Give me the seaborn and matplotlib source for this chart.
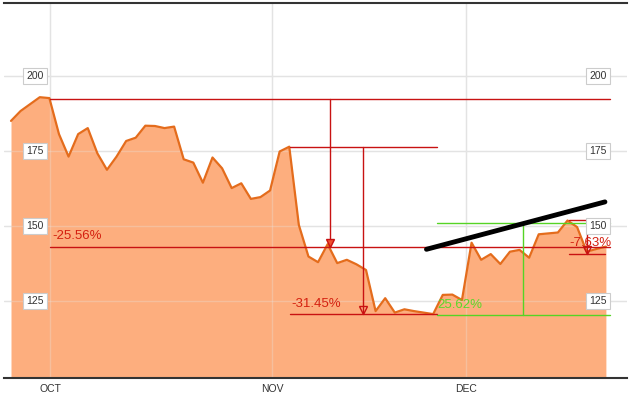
import matplotlib
matplotlib.use("Agg")
import matplotlib.pyplot as plt
import seaborn as sns
import numpy as np
import pandas as pd

# ---- data ----
prices = [185.0, 188.3, 190.6, 192.9, 192.6, 180.6, 173.1, 180.6, 182.6, 174.2,
          168.7, 173.1, 178.3, 179.4, 183.4, 183.3, 182.6, 183.1, 172.2, 171.1,
          164.4, 172.8, 169.2, 162.6, 164.2, 159.0, 159.6, 161.8, 174.8, 176.4,
          150.3, 139.8, 137.9, 143.9, 137.6, 138.7, 137.2, 135.3, 121.6, 125.9,
          121.1, 122.2, 121.6, 121.1, 120.6, 127.0, 127.1, 125.3, 144.4, 138.7,
          140.6, 137.3, 141.4, 142.0, 139.4, 147.2, 147.5, 147.8, 151.8, 149.6,
          141.4, 142.3, 143.1]
month_labels = ["OCT", "NOV", "DEC"]
month_pos = [4.06, 27.2, 47.45]
ytick_vals = [125, 150, 175, 200]

# drawdown / rally annotations
dd1 = dict(x0=4.06, x1=62.4, xa=33.2, y_from=192.3, y_to=143.0, label="-25.56%")
dd2 = dict(x0=29.1, x1=44.4, xa=36.7, y_from=176.4, y_to=120.6, label="-31.45%")
up1 = dict(x0=44.4, x1=62.4, xa=53.4, y_from=120.3, y_to=151.1, label="25.62%")
dd3 = dict(x0=58.2, x1=61.9, xa=60.0, y_from=152.0, y_to=140.7, label="-7.63%")
trend_x = [43.3, 61.9]
trend_y = [142.2, 158.0]

df = pd.DataFrame({"idx": np.arange(len(prices)), "price": prices})

sns.set_theme(style="white")
plt.rcParams['font.family'] = ['Liberation Sans', 'DejaVu Sans']

fig = plt.figure(figsize=(6.3, 3.94), dpi=100)
ax = fig.add_axes([4/630, 1 - 378/394, 623/630, 375/394])

ymin, ymax = 99.3, 224.3
ax.fill_between(df["idx"], df["price"], ymin, color="#FDAE7E", zorder=1, linewidth=0)
sns.lineplot(data=df, x="idx", y="price", ax=ax, color="#E46C1C", linewidth=1.6, zorder=3)

ax.set_xlim(-0.73, 64.2)
ax.set_ylim(ymin, ymax)

# grid (behind, plus faint copy over the fill)
for v in ytick_vals:
    ax.axhline(v, color="#E2E2E2", linewidth=1.0, zorder=0.5)
    ax.axhline(v, color="#E8E8E8", linewidth=1.0, alpha=0.3, zorder=2)
for p in month_pos:
    ax.axvline(p, color="#E2E2E2", linewidth=1.0, zorder=0.5)
    ax.axvline(p, color="#E8E8E8", linewidth=1.0, alpha=0.3, zorder=2)

ax.set_xticks(month_pos)
ax.set_xticklabels(month_labels, fontsize=7.5, color="#333333")
ax.tick_params(axis="x", length=0, pad=4)
ax.set_yticks([])
ax.set_xlabel("")
ax.set_ylabel("")

for s in ["left", "right"]:
    ax.spines[s].set_visible(False)
ax.spines["bottom"].set_color("#333333")
ax.spines["bottom"].set_linewidth(1.5)
ax.spines["top"].set_color("#333333")
ax.spines["top"].set_linewidth(1.5)

# y labels in boxes, both sides
box = dict(boxstyle="square,pad=0.3", fc="white", ec="#CCCCCC", lw=0.8)
for v in ytick_vals:
    for xf in (0.05, 0.953):
        ax.text(xf, v, str(v), transform=ax.get_yaxis_transform(), fontsize=7.5,
                ha="center", va="center", color="#333333", bbox=box, zorder=6)

red = "#C81212"
green = "#55D424"

def measure(d, color, up=False, tri_fill=None):
    ax.plot([d["x0"], d["x1"]], [d["y_from"], d["y_from"]], color=color, lw=1.0, zorder=4)
    ax.plot([d["x0"], d["x1"]], [d["y_to"], d["y_to"]], color=color, lw=1.0, zorder=4)
    ax.plot([d["xa"], d["xa"]], [d["y_from"], d["y_to"]], color=color, lw=1.0, zorder=4)
    if not up:
        ax.plot([d["xa"]], [d["y_to"] + 1.2], marker="v", ms=6, mfc=tri_fill or "none",
                mec=color, mew=1.0, zorder=5)
    else:
        ax.plot([d["xa"] - 0.3, d["xa"] + 0.3], [d["y_to"], d["y_to"]], color=color, lw=1.0, zorder=5)

measure(dd1, red, tri_fill="#F05030")
ax.text(dd1["x0"] + 0.2, dd1["y_to"] + 1.5, dd1["label"], color="#D42010", fontsize=9.5, va="bottom", zorder=6)

measure(dd2, red)
ax.text(dd2["x0"] + 0.1, dd2["y_to"] + 1.5, dd2["label"], color="#D42010", fontsize=9.5, va="bottom", zorder=6)

measure(up1, green, up=True)
ax.text(up1["x0"] + 0.05, up1["y_from"] + 1.2, up1["label"], color="#5AD82A", fontsize=9.5, va="bottom", zorder=6)

measure(dd3, red)
ax.text(dd3["x0"] - 0.05, dd3["y_to"] + 1.5, dd3["label"], color="#D42010", fontsize=9.5, va="bottom", zorder=6)

ax.plot(trend_x, trend_y, color="black", lw=3.5, solid_capstyle="round", zorder=7)

fig.savefig("out.png", dpi=100)
